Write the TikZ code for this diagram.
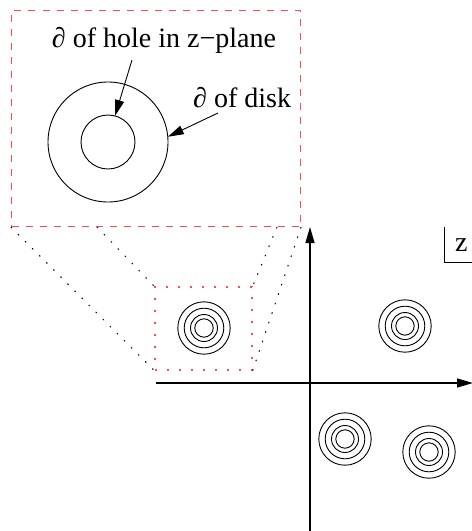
\documentclass[tikz,border=0pt]{standalone}
\usepackage{fontspec}
\setmainfont{Liberation Serif}
\usetikzlibrary{arrows.meta}
\definecolor{zoomred}{RGB}{255,77,77}

\begin{document}
\begin{tikzpicture}[x=1pt, y=-1pt, font=\fontsize{28}{32}\selectfont,
  ring/.style={draw, circle, inner sep=0pt, outer sep=0pt, line width=0.9pt},
  axis/.style={line width=1.3pt, -{Triangle[length=16pt,width=9pt]}},
  pointer/.style={line width=0.9pt, -{Triangle[length=16pt,width=9pt]}},
  zoomline/.style={line width=1pt, dash pattern=on 1.5pt off 8.5pt}]
  \useasboundingbox (0,0) rectangle (472,531);
  % axes of the z-plane
  \coordinate (xstart) at (156,383);
  \coordinate (xend) at (473,383);
  \coordinate (ystart) at (310,532);
  \coordinate (yend) at (310,227);
  \draw[axis] (xstart) -- (xend);
  \draw[axis] (ystart) -- (yend);
  % corner label z
  \coordinate (ztop) at (444,227);
  \coordinate (zcorner) at (444,262.5);
  \coordinate (zright) at (473,262.5);
  \draw[line width=0.8pt] (ztop) -- (zcorner) -- (zright);
  \node[anchor=base west, inner sep=0pt] (zlabel) at (455,251) {z};
  % holes in the z-plane
  \foreach \n/\cx/\cy in {a/204/328, b/405/326, c/345/439, d/429/452}
    \foreach \r [count=\i] in {26.2,19.8,13.5,9.2}
      \node[ring, minimum size=2*\r pt] (hole\n\i) at (\cx,\cy) {};
  % zoomed view
  \node[draw=zoomred, line width=1.1pt, dash pattern=on 7pt off 7pt,
        minimum width=289pt, minimum height=216pt, inner sep=0pt]
        (zoomframe) at (156,118.5) {};
  \node[draw=zoomred, line width=1.3pt, dash pattern=on 2pt off 10pt,
        minimum width=97pt, minimum height=83pt, inner sep=0pt]
        (zoomspot) at (203.5,328.5) {};
  \coordinate (fa) at (97,227);
  \coordinate (fb) at (277,227);
  \draw[zoomline] (zoomframe.south west) -- (zoomspot.south west);
  \draw[zoomline] (fa) -- (zoomspot.north west);
  \draw[zoomline] (fb) -- (zoomspot.north east);
  \draw[zoomline] (zoomframe.south east) -- (zoomspot.south east);
  \node[ring, minimum size=120pt] (disk) at (108,142) {};
  \node[ring, minimum size=54pt] (hole) at (108,142) {};
  % labels
  \node[anchor=base, inner sep=0pt] (holelabel) at (164,47) {∂ of hole in z−plane};
  \node[anchor=base west, inner sep=0pt] (disklabel) at (193,107) {∂ of disk};
  \coordinate (holefrom) at (132,60);
  \coordinate (diskfrom) at (218,113);
  \draw[pointer] (holefrom) -- (hole.75);
  \draw[pointer] (diskfrom) -- (disk.5);
\end{tikzpicture}
\end{document}
